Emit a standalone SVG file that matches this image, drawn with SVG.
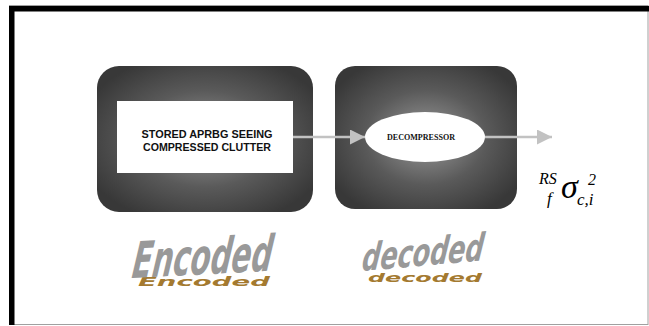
<svg xmlns="http://www.w3.org/2000/svg" width="649" height="326" viewBox="0 0 649 326">
<defs>
<radialGradient id="glow" cx="50%" cy="50%" r="60%">
<stop offset="0%" stop-color="#9c9c9c"/>
<stop offset="55%" stop-color="#5a5a5a"/>
<stop offset="100%" stop-color="#383838"/>
</radialGradient>
<marker id="ah" markerWidth="6" markerHeight="6" refX="6" refY="3" orient="auto" markerUnits="strokeWidth">
<path d="M0,0 L6,3 L0,6 Z" fill="#c2c2c2"/>
</marker>
<style>
.box{fill:url(#glow)}
.lbl{font-family:"Liberation Sans",Arial,sans-serif;font-weight:bold;font-size:10.6px;fill:#111;text-anchor:middle}
.dec{font-family:"Liberation Serif","Times New Roman",serif;font-weight:bold;font-size:7.4px;fill:#111;text-anchor:middle}
.conn{stroke:#c2c2c2;stroke-width:2.5;fill:none}
.math{font-family:"Liberation Serif","DejaVu Serif",serif;font-style:italic;fill:#000}
.logo{font-family:"DejaVu Sans",sans-serif;font-weight:bold;font-style:italic;fill:#999}
.refl{font-family:"DejaVu Sans",sans-serif;font-weight:bold;font-style:italic;fill:#a47a30}
</style>
</defs>
<rect x="0" y="0" width="649" height="326" fill="#fff"/>
<g id="frame">
<rect x="9.5" y="5.5" width="638.5" height="319" fill="#fff" stroke="#a0a0a0" stroke-width="1"/>
<rect x="9" y="6" width="640" height="5.5" fill="#000"/>
<rect x="9" y="6" width="5.5" height="319" fill="#000"/>
</g>
<g id="node-stored">
<rect class="box" x="97" y="66" width="216" height="146" rx="22"/>
<rect x="117" y="101" width="176" height="72" fill="#fff"/>
<text class="lbl" x="207" y="137.5" textLength="131" lengthAdjust="spacingAndGlyphs">STORED APRBG SEEING</text>
<text class="lbl" x="207" y="151" textLength="128" lengthAdjust="spacingAndGlyphs">COMPRESSED CLUTTER</text>
</g>
<g id="node-decompressor">
<rect class="box" x="335" y="66" width="182" height="143" rx="20"/>
<ellipse cx="425" cy="137" rx="60" ry="25" fill="#fff"/>
<text class="dec" x="421" y="139.5" textLength="68" lengthAdjust="spacingAndGlyphs">DECOMPRESSOR</text>
</g>
<g id="connectors">
<line class="conn" x1="293" y1="137" x2="365" y2="137" marker-end="url(#ah)"/>
<line class="conn" x1="485" y1="137" x2="552" y2="137" marker-end="url(#ah)"/>
</g>
<g id="output-label">
<text class="math" x="539" y="183.5" font-size="16">RS</text>
<text class="math" x="547" y="204" font-size="17">f</text>
<text class="math" x="561" y="198" font-size="34">σ</text>
<text class="math" x="588" y="185" font-size="16" font-style="normal">2</text>
<text class="math" x="577" y="205" font-size="17">c,i</text>
</g>
<g id="logo-encoded">
<text class="refl" transform="translate(0,286) scale(1,0.36)" x="138" y="0" font-size="36" textLength="132" lengthAdjust="spacingAndGlyphs">Encoded</text>
<text class="logo" transform="rotate(-3 131 278) translate(131 278) skewX(-10)" x="0" y="0" font-size="50" textLength="140" lengthAdjust="spacingAndGlyphs">Encoded</text>
</g>
<g id="logo-decoded">
<text class="refl" transform="translate(0,282) scale(1,0.4)" x="368" y="0" font-size="32" textLength="114" lengthAdjust="spacingAndGlyphs">decoded</text>
<text class="logo" transform="rotate(-5 361 271) translate(361 271) skewX(-12)" x="0" y="0" font-size="38" textLength="122" lengthAdjust="spacingAndGlyphs">decoded</text>
</g>
</svg>
